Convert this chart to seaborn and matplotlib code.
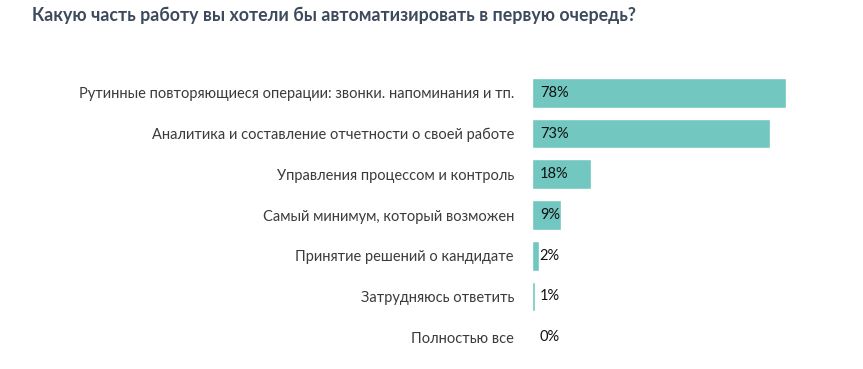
import matplotlib
matplotlib.use("Agg")
import matplotlib.pyplot as plt
import pandas as pd
import seaborn as sns

categories = [
    "Рутинные повторяющиеся операции: звонки. напоминания и тп.",
    "Аналитика и составление отчетности о своей работе",
    "Управления процессом и контроль",
    "Самый минимум, который возможен",
    "Принятие решений о кандидате",
    "Затрудняюсь ответить",
    "Полностью все",
]
shares = [78, 73, 18, 9, 2, 1, 0]
title = "Какую часть работу вы хотели бы автоматизировать в первую очередь?"

df = pd.DataFrame({"category": categories, "share": shares})

sns.set_theme(style="white")
plt.rcParams["font.family"] = ["Lato", "DejaVu Sans"]

fig = plt.figure(figsize=(8.63, 3.69), dpi=100)
ax = fig.add_axes([532 / 863, 1 - 357.5 / 369, 254 / 863, 285 / 369])

sns.barplot(data=df, x="share", y="category", orient="h", color="#72c7c0",
            saturation=1, width=0.73, ax=ax)
ax.set_xlim(0, 78)
ax.set_xlabel("")
ax.set_ylabel("")
ax.set_xticks([])
ax.tick_params(axis="y", length=0, pad=13, labelsize=10.5, labelcolor="#3b3b3b")
sns.despine(ax=ax, left=True, bottom=True)

for i, v in enumerate(shares):
    ax.text(2.4, i, f"{v}%", va="center", ha="left", fontsize=10.5, color="#111111")

fig.text(32 / 863, 1 - 15 / 369, title, fontsize=12.8, fontweight="bold",
         color="#3d4a5c", ha="left", va="center")

fig.savefig("out.png", dpi=100)
